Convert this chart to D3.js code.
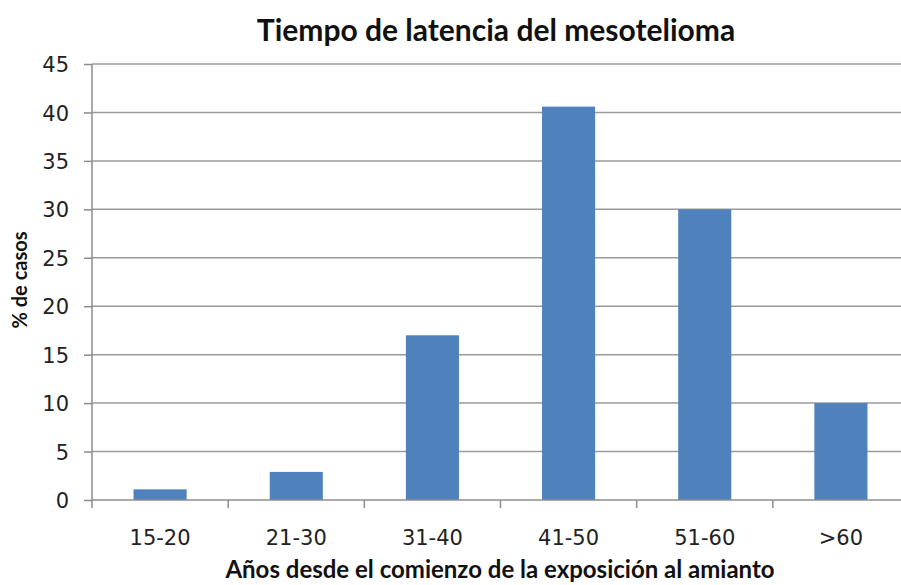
<!DOCTYPE html>
<html>
<head>
<meta charset="utf-8">
<script src="https://cdn.jsdelivr.net/npm/d3@7"></script>
<style>
  body { margin: 0; background: #fff; }
  .tick text { font-family: "DejaVu Sans", Verdana, sans-serif; fill: #222; }
</style>
</head>
<body>
<script>
// data
var categories = ["15-20", "21-30", "31-40", "41-50", "51-60", ">60"];
var casos = [1.1, 2.9, 17, 40.6, 30, 10];
var yTicks = [0, 5, 10, 15, 20, 25, 30, 35, 40, 45];

var margin = {top: 64, right: -8, bottom: 85, left: 92},
    width = 901 - margin.left - margin.right,
    height = 585 - margin.top - margin.bottom;

var x = d3.scaleBand().domain(categories).range([0, width]).paddingInner(0.61).paddingOuter(0.305);
var y = d3.scaleLinear().domain([0, 45]).range([height, 0]);

var svg = d3.select("body").append("svg")
    .attr("width", 901)
    .attr("height", 585);

var g = svg.append("g")
    .attr("transform", "translate(" + margin.left + "," + margin.top + ")");

// gridlines
g.append("g")
    .selectAll("line")
    .data(yTicks.slice(1))
    .enter().append("line")
    .attr("x1", 0)
    .attr("x2", width)
    .attr("y1", function(d) { return y(d); })
    .attr("y2", function(d) { return y(d); })
    .attr("stroke", "#9a9a9a")
    .attr("stroke-width", 1.5);

// bars
g.selectAll("rect.bar")
    .data(casos)
    .enter().append("rect")
    .attr("class", "bar")
    .attr("x", function(d, i) { return x(categories[i]); })
    .attr("width", x.bandwidth())
    .attr("y", function(d) { return y(d); })
    .attr("height", function(d) { return height - y(d); })
    .attr("fill", "#4f81bd");

// y axis
var yAxis = g.append("g")
    .call(d3.axisLeft(y).tickValues(yTicks).tickSize(8).tickPadding(15));
yAxis.selectAll("line, path").attr("stroke", "#8c8c8c").attr("stroke-width", 1.5);
yAxis.select(".domain").attr("d", "M0," + height + "V0");
yAxis.selectAll("text").style("font-size", "21px").attr("dy", "0.36em");

// x axis, ticks between categories
var xEdges = d3.scaleLinear().domain([0, categories.length]).range([0, width]);
var xAxis = g.append("g")
    .attr("transform", "translate(0," + height + ")");
xAxis.append("line")
    .attr("x1", 0).attr("x2", width)
    .attr("stroke", "#8c8c8c").attr("stroke-width", 1.5);
xAxis.selectAll("line.tk")
    .data(d3.range(categories.length + 1))
    .enter().append("line")
    .attr("class", "tk")
    .attr("x1", function(d) { return xEdges(d); })
    .attr("x2", function(d) { return xEdges(d); })
    .attr("y1", 0).attr("y2", 8)
    .attr("stroke", "#8c8c8c").attr("stroke-width", 1.5);
xAxis.selectAll("text")
    .data(categories)
    .enter().append("text")
    .attr("x", function(d) { return x(d) + x.bandwidth() / 2; })
    .attr("y", 45)
    .attr("text-anchor", "middle")
    .style("font-family", "DejaVu Sans, Verdana, sans-serif")
    .style("font-size", "21px")
    .style("fill", "#222")
    .text(function(d) { return d; });

// titles
svg.append("text")
    .attr("x", 496)
    .attr("y", 41)
    .attr("text-anchor", "middle")
    .style("font-family", "Lato, sans-serif")
    .style("font-weight", "bold")
    .style("font-size", "30px")
    .style("fill", "#111")
    .text("Tiempo de latencia del mesotelioma");

svg.append("text")
    .attr("x", 500)
    .attr("y", 578)
    .attr("text-anchor", "middle")
    .style("font-family", "Lato, sans-serif")
    .style("font-weight", "bold")
    .style("font-size", "24px")
    .style("fill", "#111")
    .text("Años desde el comienzo de la exposición al amianto");

svg.append("text")
    .attr("transform", "translate(27,280) rotate(-90)")
    .attr("text-anchor", "middle")
    .style("font-family", "Lato, sans-serif")
    .style("font-weight", "bold")
    .style("font-size", "20px")
    .style("fill", "#111")
    .text("% de casos");
</script>
</body>
</html>
